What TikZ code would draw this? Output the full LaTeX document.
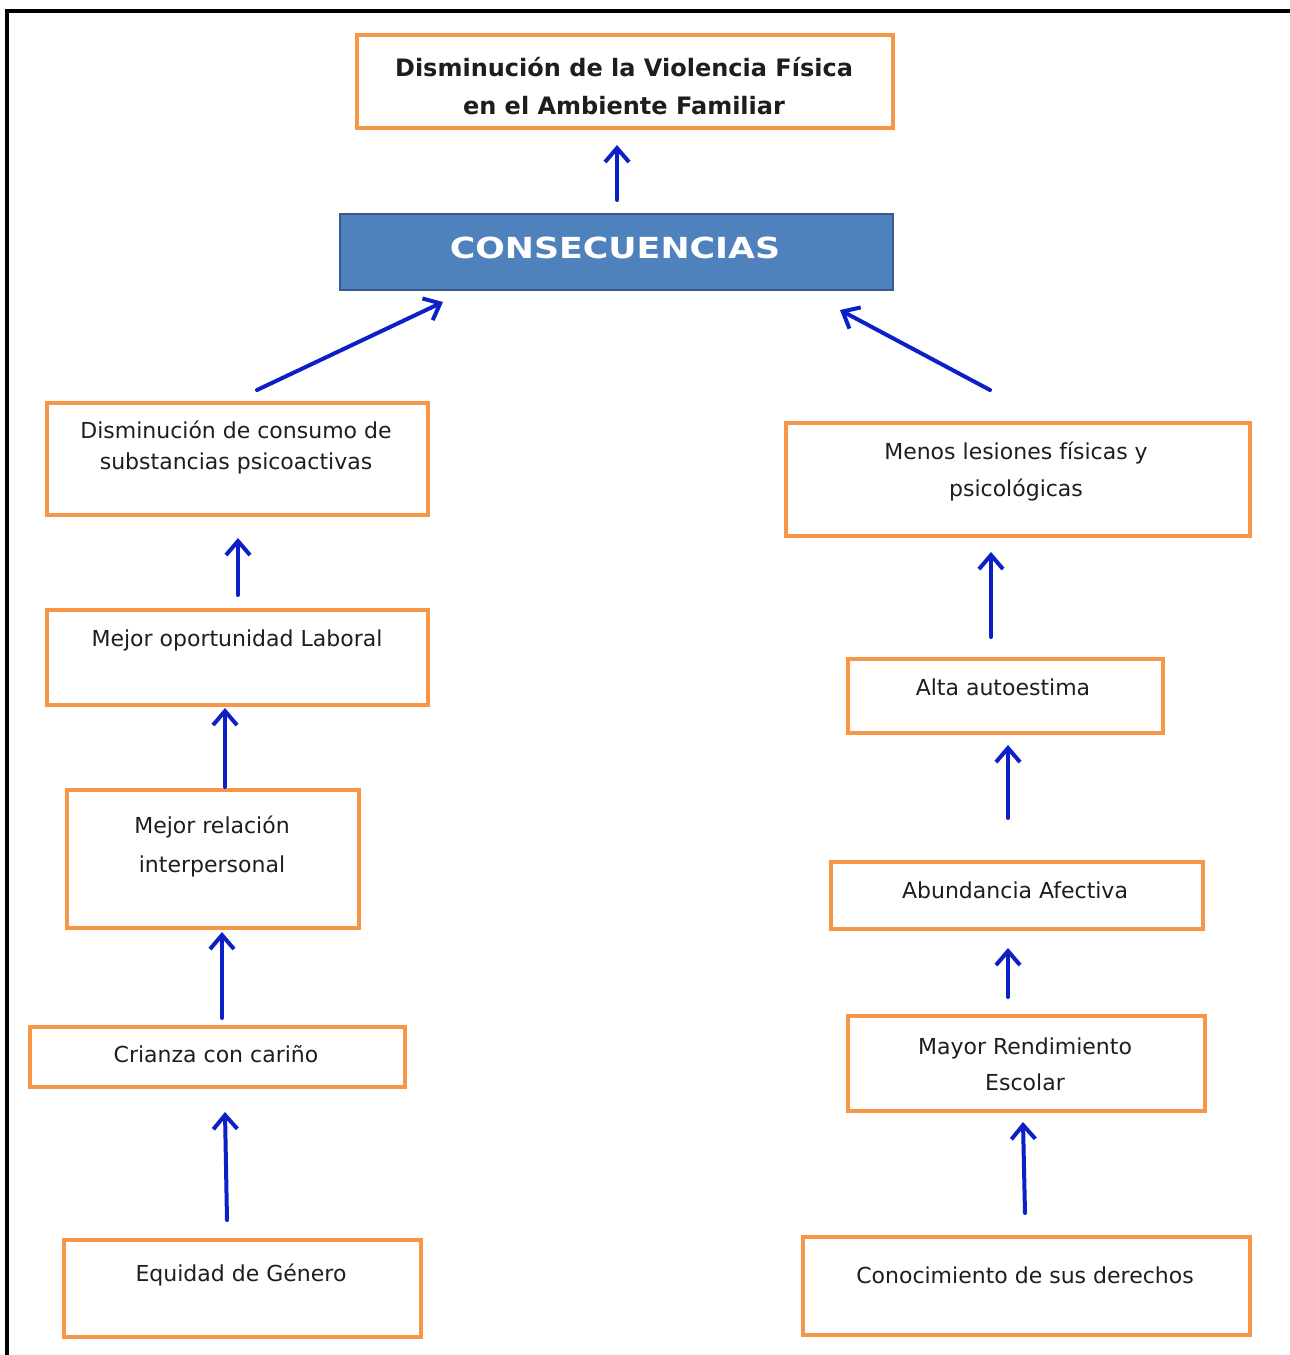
\documentclass[tikz,border=0pt]{standalone}
\usepackage{fontspec}
\setmainfont{DejaVu Sans}
\newfontfamily\consfont[FakeStretch=1.2]{DejaVu Sans}
\usetikzlibrary{arrows.meta,calc}
\definecolor{orng}{HTML}{F79646}
\definecolor{arrblue}{RGB}{12,32,200}
\definecolor{consfill}{HTML}{4F81BD}
\definecolor{consedge}{HTML}{385D8A}
\definecolor{txtc}{HTML}{1E1E1E}
\newcommand\obx[6][obox]{\node[#1, minimum width={(#5-#3)*0.5pt}, minimum height={(#6-#4)*0.5pt}] (#2) at ({(#3+#5)/2},{(#4+#6)/2}) {};}
\tikzset{
  obox/.style={draw=orng, line width=1.6pt, fill=white, inner sep=0pt, outer sep=0pt},
  consbox/.style={draw=consedge, line width=1.2pt, fill=consfill, inner sep=0pt, outer sep=0pt},
  txt/.style={text=txtc, align=center, inner sep=0pt, font=\fontsize{11}{17}\selectfont},
  arr/.style={draw=arrblue, line width=2pt, line cap=round, -{Straight Barb[length=7pt,width=12pt,line width=2pt]}},
}
\begin{document}
\begin{tikzpicture}[x=0.5pt,y=-0.5pt]
\useasboundingbox (0,0) rectangle (1290,1355);
\fill[white] (0,0) rectangle (1290,1355);
% frame
\coordinate (fbl) at (7,1355);
\coordinate (ftl) at (7,11);
\coordinate (ftr) at (1290,11);
\draw[line width=1.6pt] (fbl) -- (ftl) -- (ftr);
% boxes
\obx{top}{357}{35}{893}{128}
\obx[consbox]{cons}{340}{214}{893}{290}
\obx{l1}{47}{403}{428}{515}
\obx{l2}{47}{610}{428}{705}
\obx{l3}{67}{790}{359}{928}
\obx{l4}{30}{1027}{405}{1087}
\obx{l5}{64}{1240}{421}{1337}
\obx{r1}{786}{423}{1250}{536}
\obx{r2}{848}{659}{1163}{733}
\obx{r3}{831}{862}{1203}{929}
\obx{r4}{848}{1016}{1205}{1111}
\obx{r5}{803}{1237}{1250}{1335}
% texts
\node[txt, font=\fontsize{12}{19}\selectfont\bfseries] (toptx) at (624,86) {Disminución de la Violencia Física\\en el Ambiente Familiar};
\node[txt, text=white, font=\consfont\fontsize{14.5}{16}\selectfont\bfseries] (constx) at (615,248) {CONSECUENCIAS};
\node[txt, font=\fontsize{11}{15.5}\selectfont] (l1tx) at (236,447) {Disminución de consumo de\\substancias psicoactivas};
\node[txt] (l2tx) at (237,640) {Mejor oportunidad Laboral};
\node[txt, font=\fontsize{11}{19.5}\selectfont] (l3tx) at (212,846) {Mejor relación\\interpersonal};
\node[txt] (l4tx) at (216,1054) {Crianza con cariño};
\node[txt] (l5tx) at (241,1275) {Equidad de Género};
\node[txt, font=\fontsize{11}{18.5}\selectfont] (r1tx) at (1016,471) {Menos lesiones físicas y\\psicológicas};
\node[txt] (r2tx) at (1003,687) {Alta autoestima};
\node[txt] (r3tx) at (1015,890) {Abundancia Afectiva};
\node[txt, font=\fontsize{11}{18}\selectfont] (r4tx) at (1025,1064) {Mayor Rendimiento\\Escolar};
\node[txt] (r5tx) at (1025,1275) {Conocimiento de sus derechos};
% arrows
\draw[arr] ($(cons.north)+(0.5,-14)$) -- ($(top.south)+(-8,17)$);
\draw[arr] ($(l1.north)+(19.5,-13)$) -- ($(cons.south)+(-173.5,12)$);
\draw[arr] ($(r1.north)+(-28,-33)$) -- ($(cons.south)+(223.5,20)$);
\draw[arr] ($(l2.north)+(0.5,-15)$) -- ($(l1.south)+(0.5,23)$);
\draw[arr] ($(l3.north)+(12,-3)$) -- ($(l2.south)+(-12.5,3)$);
\draw[arr] ($(l4.north)+(4.5,-9)$) -- ($(l3.south)+(9,4)$);
\draw[arr] ($(l5.north)+(-15.5,-20)$) -- ($(l4.south)+(7.5,25)$);
\draw[arr] ($(r2.north)+(-14.5,-22)$) -- ($(r1.south)+(-27,16)$);
\draw[arr] ($(r3.north)+(-9,-44)$) -- ($(r2.south)+(2.5,12)$);
\draw[arr] ($(r4.north)+(-18.5,-19)$) -- ($(r3.south)+(-9,19)$);
\draw[arr] ($(r5.north)+(-1.5,-24)$) -- ($(r4.south)+(-3.5,11)$);
\end{tikzpicture}
\end{document}
